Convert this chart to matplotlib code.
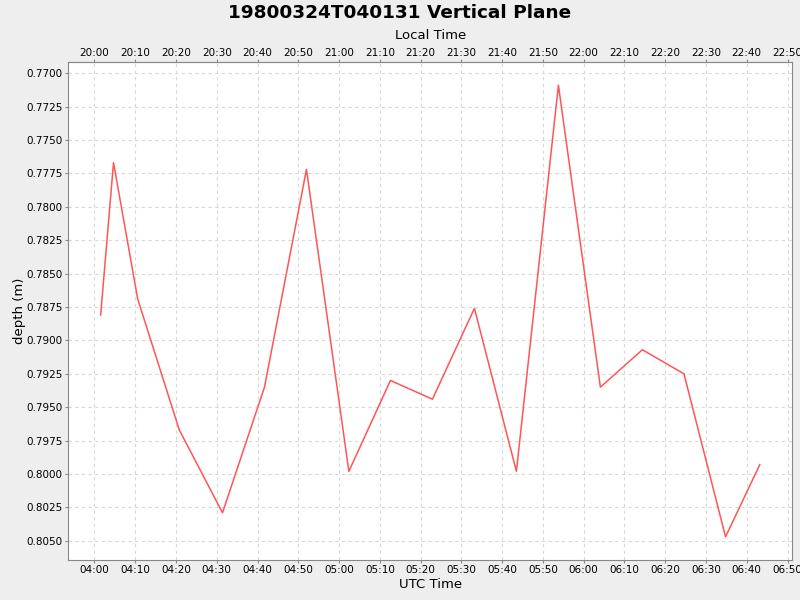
import matplotlib
matplotlib.use("Agg")
import matplotlib.pyplot as plt
import matplotlib.dates as mdates
import pandas as pd

# sample times (UTC) and depth readings
utc_times = ["04:01:31", "04:04:40", "04:10:36", "04:20:48", "04:31:24", "04:41:42",
             "04:52:00", "05:02:24", "05:12:36", "05:22:54", "05:33:12", "05:43:30",
             "05:53:48", "06:04:06", "06:14:24", "06:24:36", "06:34:48", "06:43:12"]
depth = [0.7881, 0.7767, 0.7869, 0.7967, 0.8029, 0.7935,
         0.7772, 0.7998, 0.7930, 0.7944, 0.7876, 0.7998,
         0.7709, 0.7935, 0.7907, 0.7925, 0.8047, 0.7993]
local_offset_hours = -8

t = pd.to_datetime(["1980-03-24 " + s for s in utc_times])

fig = plt.figure(figsize=(8, 6), dpi=100, facecolor="#eeeeee")
ax = fig.add_axes([0.0855, 0.067, 0.905, 0.830])
ax.set_facecolor("white")

ax.plot(t, depth, color="#ff5555", linewidth=1.1)

ax.set_xlim(pd.Timestamp("1980-03-24 03:53:36"), pd.Timestamp("1980-03-24 06:51:12"))
ax.set_ylim(0.80642, 0.76915)
ax.set_yticks([0.7700 + 0.0025 * i for i in range(15)])
ax.yaxis.set_major_formatter(plt.FormatStrFormatter("%.4f"))

ax.xaxis.set_major_locator(mdates.MinuteLocator(byminute=range(0, 60, 10)))
ax.xaxis.set_major_formatter(mdates.DateFormatter("%H:%M"))

ax.grid(True, color="#d8d8d8", linestyle=(0, (3, 3)), linewidth=0.8)
for sp in ax.spines.values():
    sp.set_color("#888888")
ax.tick_params(colors="#888888", labelcolor="black", labelsize=7.5, length=2, pad=2)

off = local_offset_hours / 24.0
top = ax.secondary_xaxis("top", functions=(lambda x: x + off, lambda x: x - off))
top.xaxis.set_major_locator(mdates.MinuteLocator(byminute=range(0, 60, 10)))
top.xaxis.set_major_formatter(mdates.DateFormatter("%H:%M"))
top.spines["top"].set_color("#888888")
top.tick_params(colors="#888888", labelcolor="black", labelsize=7.5, length=2, pad=0.5)
top.set_xlabel("Local Time", fontsize=9.5, labelpad=6.5)

ax.set_xlabel("UTC Time", fontsize=9.5, labelpad=2)
ax.set_ylabel("depth (m)", fontsize=9.5, labelpad=0.5)
fig.suptitle("19800324T040131 Vertical Plane", fontsize=13.3, fontweight="bold", y=0.993)

plt.savefig("out.png", facecolor=fig.get_facecolor())
